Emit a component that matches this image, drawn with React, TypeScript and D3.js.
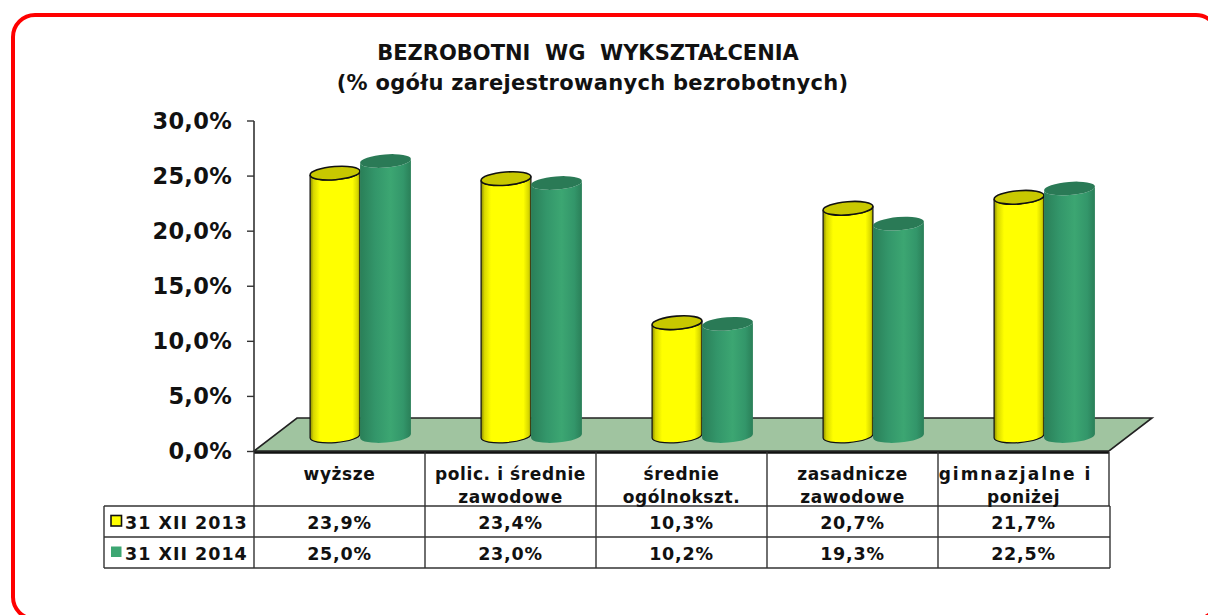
import React from "react";
import * as d3 from "d3";

const categories = ["wyższe", "polic. i średnie|zawodowe", "średnie|ogólnokszt.", "zasadnicze|zawodowe", "gimnazjalne i|poniżej"];
const series2013 = [23.9, 23.4, 10.3, 20.7, 21.7];
const series2014 = [25.0, 23.0, 10.2, 19.3, 22.5];
const seriesNames = ["31 XII 2013", "31 XII 2014"];
const ticks = [0, 5, 10, 15, 20, 25, 30];
const titleLines = ["BEZROBOTNI  WG  WYKSZTAŁCENIA", "(% ogółu zarejestrowanych bezrobotnych)"];

const W = 1208, H = 615;
const FONT = "'DejaVu Sans', Verdana, sans-serif";
const fmt = (v: number) => v.toFixed(1).replace(".", ",") + "%";

function Cylinder({ x, w, yTop, yBase, grad, top, stroke }: any) {
  const rx = w / 2, ry = 6.6, tilt = -4.6;
  const r = (tilt * Math.PI) / 180;
  const dx = rx * Math.cos(r), dy = rx * Math.sin(r);
  const cx = x + rx;
  const d = `M${cx - dx},${yTop - dy} L${cx - dx},${yBase - dy} A${rx},${ry} ${tilt} 0 0 ${cx + dx},${yBase + dy} L${cx + dx},${yTop + dy} A${rx},${ry} ${tilt} 0 1 ${cx - dx},${yTop - dy} Z`;
  return (
    <g>
      <path d={d} fill={`url(#${grad})`} stroke={stroke} strokeWidth={stroke === "none" ? 0 : 1.2} />
      <ellipse cx={cx} cy={yTop} rx={rx} ry={ry} transform={`rotate(${tilt} ${cx} ${yTop})`} fill={top} stroke={stroke} strokeWidth={stroke === "none" ? 0 : 1.6} />
    </g>
  );
}

export default function App() {
  const x = d3.scaleBand<string>().domain(categories).range([254, 1109]);
  const yAxis = d3.scaleLinear().domain([0, 30]).range([451.5, 121]);
  const yBar = d3.scaleLinear().domain([0, 30]).range([436, 106]);
  const floorDx = 43, floorDy = 33;
  const tableX0 = 104;
  const rowY = [506, 537, 568];
  const barW = 50;
  const barOff = 56;

  return (
    <svg width={W} height={H} style={{ position: "absolute", left: 0, top: 0, background: "#fff" }} fontFamily={FONT}>
      <defs>
        <linearGradient id="gy" x1="0" x2="1" y1="0" y2="0">
          <stop offset="0" stopColor="#8a8a00" />
          <stop offset="0.07" stopColor="#d8d800" />
          <stop offset="0.2" stopColor="#ffff00" />
          <stop offset="0.85" stopColor="#ffff00" />
          <stop offset="0.95" stopColor="#d8d800" />
          <stop offset="1" stopColor="#a0a000" />
        </linearGradient>
        <linearGradient id="gg" x1="0" x2="1" y1="0" y2="0">
          <stop offset="0" stopColor="#2a7f58" />
          <stop offset="0.3" stopColor="#33966a" />
          <stop offset="0.6" stopColor="#3ca672" />
          <stop offset="0.85" stopColor="#33966a" />
          <stop offset="1" stopColor="#2a7f58" />
        </linearGradient>
      </defs>

      <rect x={13} y={15} width={1205} height={604} rx={22} ry={22} fill="#fff" stroke="#ff0000" strokeWidth={4} />

      <text textAnchor="middle" fontWeight="700" fontSize={21} fill="#111">
        <tspan x={588} y={60} style={{ whiteSpace: "pre" }}>{titleLines[0]}</tspan>
        <tspan x={592.5} y={90} letterSpacing={0.3}>{titleLines[1]}</tspan>
      </text>

      <polygon
        points={`${x.range()[0]},451 ${x.range()[0] + floorDx},${451 - floorDy} ${x.range()[1] + floorDx},${451 - floorDy} ${x.range()[1]},451`}
        fill="#a0c4a0"
        stroke="#222"
        strokeWidth={1.6}
      />
      <line x1={254} x2={254} y1={121} y2={451} stroke="#333" strokeWidth={1.6} />
      {ticks.map((t) => (
        <g key={t}>
          <line x1={247} x2={254} y1={yAxis(t)} y2={yAxis(t)} stroke="#333" strokeWidth={1.4} />
          <text x={232} y={yAxis(t) + 7.5} textAnchor="end" fontWeight="700" fontSize={22.5} letterSpacing={0.3} fill="#111">{fmt(t)}</text>
        </g>
      ))}

      {categories.map((c, i) => {
        const bx = x(c)! + barOff;
        return (
          <g key={c}>
            <Cylinder x={bx} w={barW} yTop={yBar(series2013[i])} yBase={yBar(0)} grad="gy" top="#c8c800" stroke="#111" />
            <Cylinder x={bx + barW} w={barW + 1} yTop={yBar(series2014[i])} yBase={yBar(0)} grad="gg" top="#2a7a56" stroke="none" />
          </g>
        );
      })}

      <line x1={254} x2={1109} y1={452.5} y2={452.5} stroke="#111" strokeWidth={2.4} />

      <g stroke="#333" strokeWidth={1.4} fill="none">
        <line x1={tableX0} x2={1110} y1={rowY[0]} y2={rowY[0]} />
        <line x1={tableX0} x2={1110} y1={rowY[1]} y2={rowY[1]} />
        <line x1={tableX0} x2={1110} y1={rowY[2]} y2={rowY[2]} />
        <line x1={tableX0} x2={tableX0} y1={rowY[0]} y2={rowY[2]} />
        <line x1={1110} x2={1110} y1={rowY[0]} y2={rowY[2]} />
        {categories.map((c) => (
          <line key={c} x1={x(c)!} x2={x(c)!} y1={452} y2={rowY[2]} />
        ))}
        <line x1={1109} x2={1109} y1={452} y2={rowY[0]} />
      </g>

      {categories.map((c) => {
        const parts = c.split("|");
        const cx = x(c)! + x.bandwidth() / 2;
        return parts.map((p, j) => {
          const wide = p === "gimnazjalne i";
          return (
            <text key={p} x={wide ? cx - 8 : cx} y={480 + j * 23} textAnchor="middle" fontWeight="700" fontSize={17} letterSpacing={wide ? 2 : 0.6} fill="#111">{p}</text>
          );
        });
      })}

      {[series2013, series2014].map((s, r) => (
        <g key={r}>
          <text x={125} y={rowY[r] + 23} fontWeight="700" fontSize={17.5} letterSpacing={1} fill="#111">{seriesNames[r]}</text>
          <rect x={111} y={rowY[r] + 9.5} width={10.5} height={10.5} fill={r === 0 ? "#ffff00" : "#3ca672"} stroke={r === 0 ? "#111" : "none"} strokeWidth={1.6} />
          {s.map((v, i) => (
            <text key={i} x={x(categories[i])! + x.bandwidth() / 2} y={rowY[r] + 23} textAnchor="middle" fontWeight="700" fontSize={17.5} letterSpacing={0.8} fill="#111">{fmt(v)}</text>
          ))}
        </g>
      ))}
    </svg>
  );
}
